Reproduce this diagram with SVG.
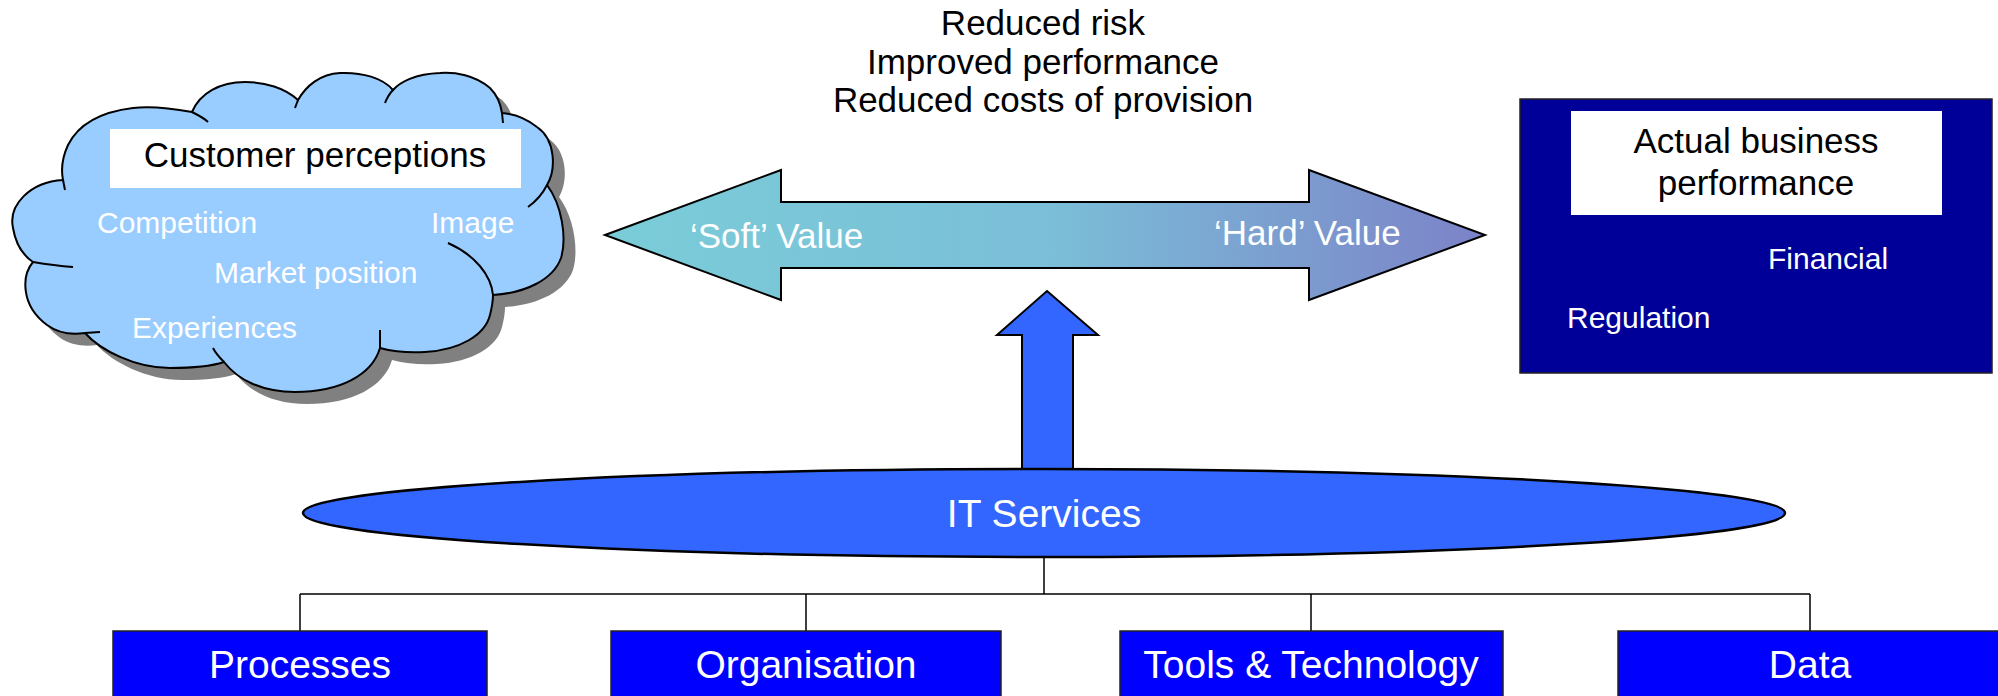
<svg xmlns="http://www.w3.org/2000/svg" width="1998" height="696" viewBox="0 0 1998 696">
<defs>
<style>
text{font-family:"Liberation Sans",Arial,sans-serif}
.w30{fill:#fff;font-size:30px}
.b35{fill:#000;font-size:35px}
.w35{fill:#fff;font-size:35px}
.w39{fill:#fff;font-size:39px;text-anchor:middle}
.box{fill:#0000ff;stroke:#222;stroke-width:1.5}
.line{fill:none;stroke:#000;stroke-width:1.5}
.edge{fill:none;stroke:#000;stroke-width:2}
</style>
<linearGradient id="gv" x1="605" y1="0" x2="1485" y2="0" gradientUnits="userSpaceOnUse">
<stop offset="0" stop-color="#7ACCD8"/>
<stop offset="0.5" stop-color="#7BBFD8"/>
<stop offset="1" stop-color="#7C82C8"/>
</linearGradient>
<path id="cloudOutline" d="M63,180 C30,182 8,205 13,228 C16,246 24,256 33,262 C22,275 20,305 47,325 C58,333 72,335 85,333 C100,350 135,368 170,368 C195,368 212,366 224,362 C238,380 262,392 295,392 C340,392 372,375 380,348 C395,352 410,353 425,352 C460,350 485,335 490,315 C492,307 493,301 493,295 C525,293 553,280 561,258 C567,238 562,205 547,185 C556,170 556,140 537,127 C527,119 515,114 502,113 C500,100 495,93 490,88 C475,75 455,72 440,73 C415,74 400,82 393,90 C383,78 362,72 340,73 C320,74 306,86 298,100 C285,88 265,82 245,82 C220,82 200,93 192,112 C170,108 150,106 133,108 C100,112 78,125 68,145 C62,158 61,170 63,180 Z"/>
</defs>

<g id="cloud">
<use href="#cloudOutline" transform="translate(12,12)" fill="#808080"/>
<use href="#cloudOutline" fill="#99CCFF" stroke="#000" stroke-width="2"/>
<path class="edge" d="M63,180 L65,190 M33,262 C45,264 60,266 73,267 M85,333 L100,332 M224,362 C219,357 215,352 213,348 M380,348 L380,330 M493,295 C491,275 475,255 448,243 M547,185 C542,195 535,202 528,207 M502,113 L503,123 M393,90 C389,94 387,98 385,103 M298,100 L295,108 M192,112 C198,115 204,118 208,122"/>
<rect x="110" y="129" width="411" height="59" fill="#fff"/>
<text class="b35" x="315" y="167" text-anchor="middle">Customer perceptions</text>
<text class="w30" x="97" y="233">Competition</text>
<text class="w30" x="431" y="233">Image</text>
<text class="w30" x="214" y="283">Market position</text>
<text class="w30" x="132" y="338">Experiences</text>
</g>

<g id="benefits">
<text class="b35" x="1043" y="35" text-anchor="middle">Reduced risk</text>
<text class="b35" x="1043" y="73.5" text-anchor="middle">Improved performance</text>
<text class="b35" x="1043" y="112" text-anchor="middle">Reduced costs of provision</text>
</g>

<g id="value-arrow">
<polygon points="605,235 781,170 781,202 1309,202 1309,170 1485,235 1309,300 1309,268 781,268 781,300" fill="url(#gv)" stroke="#000" stroke-width="2" stroke-linejoin="miter"/>
<text class="w35" x="690" y="248">‘Soft’ Value</text>
<text class="w35" x="1214" y="245">‘Hard’ Value</text>
</g>

<g id="business-performance">
<rect x="1520" y="99" width="472" height="274" fill="#000099" stroke="#222" stroke-width="1.5"/>
<rect x="1571" y="111" width="371" height="104" fill="#fff"/>
<text class="b35" x="1756" y="153" text-anchor="middle">Actual business</text>
<text class="b35" x="1756" y="195" text-anchor="middle">performance</text>
<text class="w30" x="1768" y="269">Financial</text>
<text class="w30" x="1567" y="328">Regulation</text>
</g>

<g id="up-arrow">
<polygon points="1047,291 1098,335 1073,335 1073,469 1022,469 1022,335 997,335" fill="#3366FF" stroke="#000" stroke-width="2"/>
</g>

<g id="it-services">
<ellipse cx="1044" cy="513" rx="741" ry="44" fill="#3366FF" stroke="#000" stroke-width="2.5"/>
<text class="w39" x="1044" y="527">IT Services</text>
</g>

<g id="connectors">
<path class="line" d="M1044,557 V594 M300,594 H1810 M300,594 V631 M806,594 V631 M1311,594 V631 M1810,594 V631"/>
</g>

<g id="processes">
<rect class="box" x="113" y="631" width="374" height="90"/>
<text class="w39" x="300" y="678">Processes</text>
</g>
<g id="organisation">
<rect class="box" x="611" y="631" width="390" height="90"/>
<text class="w39" x="806" y="678">Organisation</text>
</g>
<g id="tools-technology">
<rect class="box" x="1120" y="631" width="383" height="90"/>
<text class="w39" x="1311" y="678">Tools &amp; Technology</text>
</g>
<g id="data">
<rect class="box" x="1618" y="631" width="390" height="90"/>
<text class="w39" x="1810" y="678">Data</text>
</g>
</svg>
